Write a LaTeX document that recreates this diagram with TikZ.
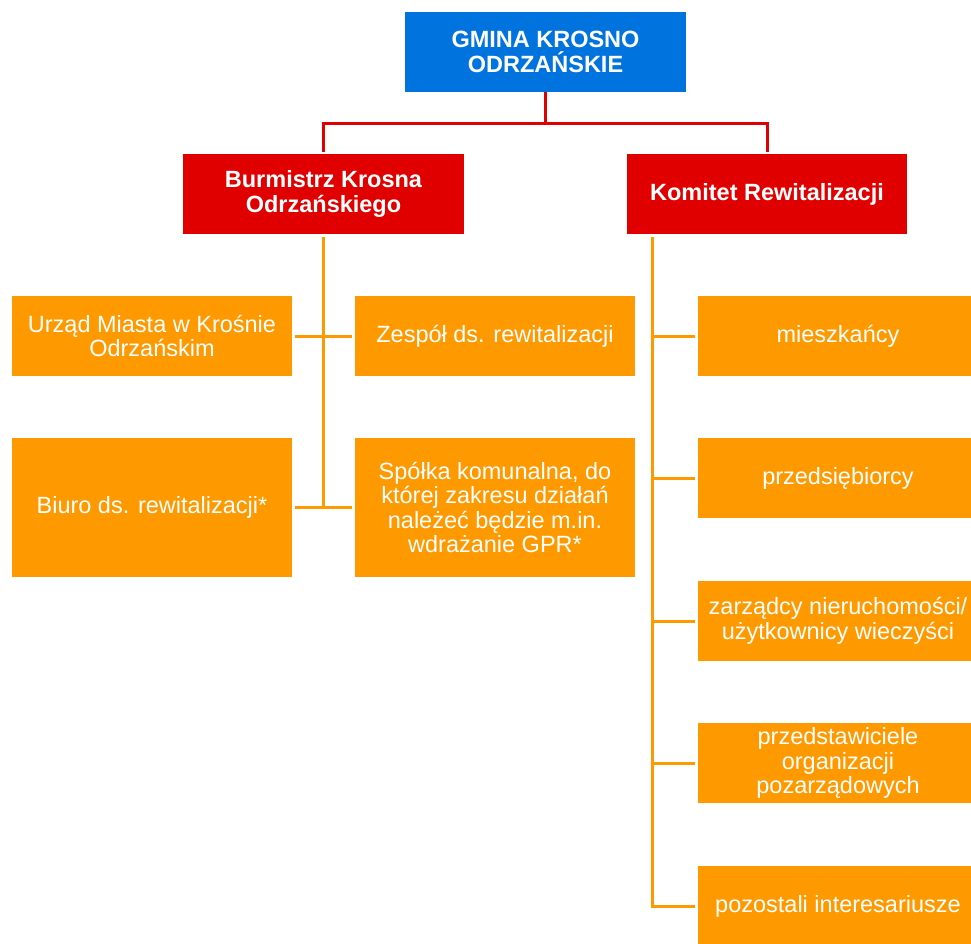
\documentclass[tikz,border=0pt]{standalone}
\usepackage{fontspec}
\setmainfont{Liberation Sans}
\definecolor{gblue}{RGB}{0,115,222}
\definecolor{gred}{RGB}{224,0,0}
\definecolor{gorange}{RGB}{255,153,0}
\begin{document}
\begin{tikzpicture}[x=1pt,y=-1pt,
  box/.style={rectangle, inner sep=0pt, text=white, align=center,
    font=\fontsize{23.5}{24.5}\selectfont, minimum width=280pt, minimum height=80pt},
  bluebox/.style={box, fill=gblue, font=\fontsize{23.5}{25}\selectfont\bfseries},
  redbox/.style={box, fill=gred, font=\fontsize{23.5}{25}\selectfont\bfseries},
  orbox/.style={box, fill=gorange},
  redline/.style={draw=gred, line width=3pt},
  orline/.style={draw=gorange, line width=3pt}]
\clip (0,0) rectangle (971,944);
\fill[white] (0,0) rectangle (971,944);
% top
\node[bluebox, minimum width=281pt] (g) at (545.5,52) {GMINA KROSNO\\ODRZAŃSKIE};
\node[redbox, minimum width=281pt] (b) at (323.5,194) {Burmistrz Krosna\\Odrzańskiego};
\node[redbox] (k) at (767,194) {Komitet Rewitalizacji};
% left group
\node[orbox] (u) at (152,336) {Urząd Miasta w Krośnie\\Odrzańskim};
\node[orbox] (z) at (495,336) {Zespół ds. rewitalizacji};
\node[orbox, minimum height=139pt] (bi) at (152,507.5) {Biuro ds. rewitalizacji*};
\node[orbox, minimum height=139pt] (s) at (495,507.5) {Spółka komunalna, do\\której zakresu działań\\należeć będzie m.in.\\wdrażanie GPR*};
% right group
\node[orbox] (r1) at (838,336) {mieszkańcy};
\node[orbox] (r2) at (838,478) {przedsiębiorcy};
\node[orbox] (r3) at (838,621) {zarządcy nieruchomości/\\użytkownicy wieczyści};
\node[orbox] (r4) at (838,763) {przedstawiciele\\organizacji\\pozarządowych};
\node[orbox] (r5) at (838,906) {pozostali interesariusze};
% red connectors
\coordinate (gj) at ([yshift=-31pt]g.south);
\draw[redline] (g.south) -- (gj);
\draw[redline] (gj) -| ([yshift=2pt]b.north);
\draw[redline] (gj) -| ([yshift=2pt]k.north);
% left orange connectors
\coordinate (bt) at ([yshift=-3pt]b.south);
\coordinate (bend) at (bt |- bi.east);
\draw[orline] (bt) -- (bend);
\draw[orline] ([xshift=3pt]u.east) -- ([xshift=-3pt]z.west);
\draw[orline] ([xshift=3pt]bi.east) -- ([xshift=-3pt]s.west);
% right orange connectors
\coordinate (kt) at ([xshift=26pt,yshift=-3pt]k.south west);
\draw[orline] (kt) |- ([xshift=-3pt]r5.west);
\draw[orline] (kt |- r1.west) -- ([xshift=-3pt]r1.west);
\draw[orline] (kt |- r2.west) -- ([xshift=-3pt]r2.west);
\draw[orline] (kt |- r3.west) -- ([xshift=-3pt]r3.west);
\draw[orline] (kt |- r4.west) -- ([xshift=-3pt]r4.west);
\end{tikzpicture}
\end{document}
